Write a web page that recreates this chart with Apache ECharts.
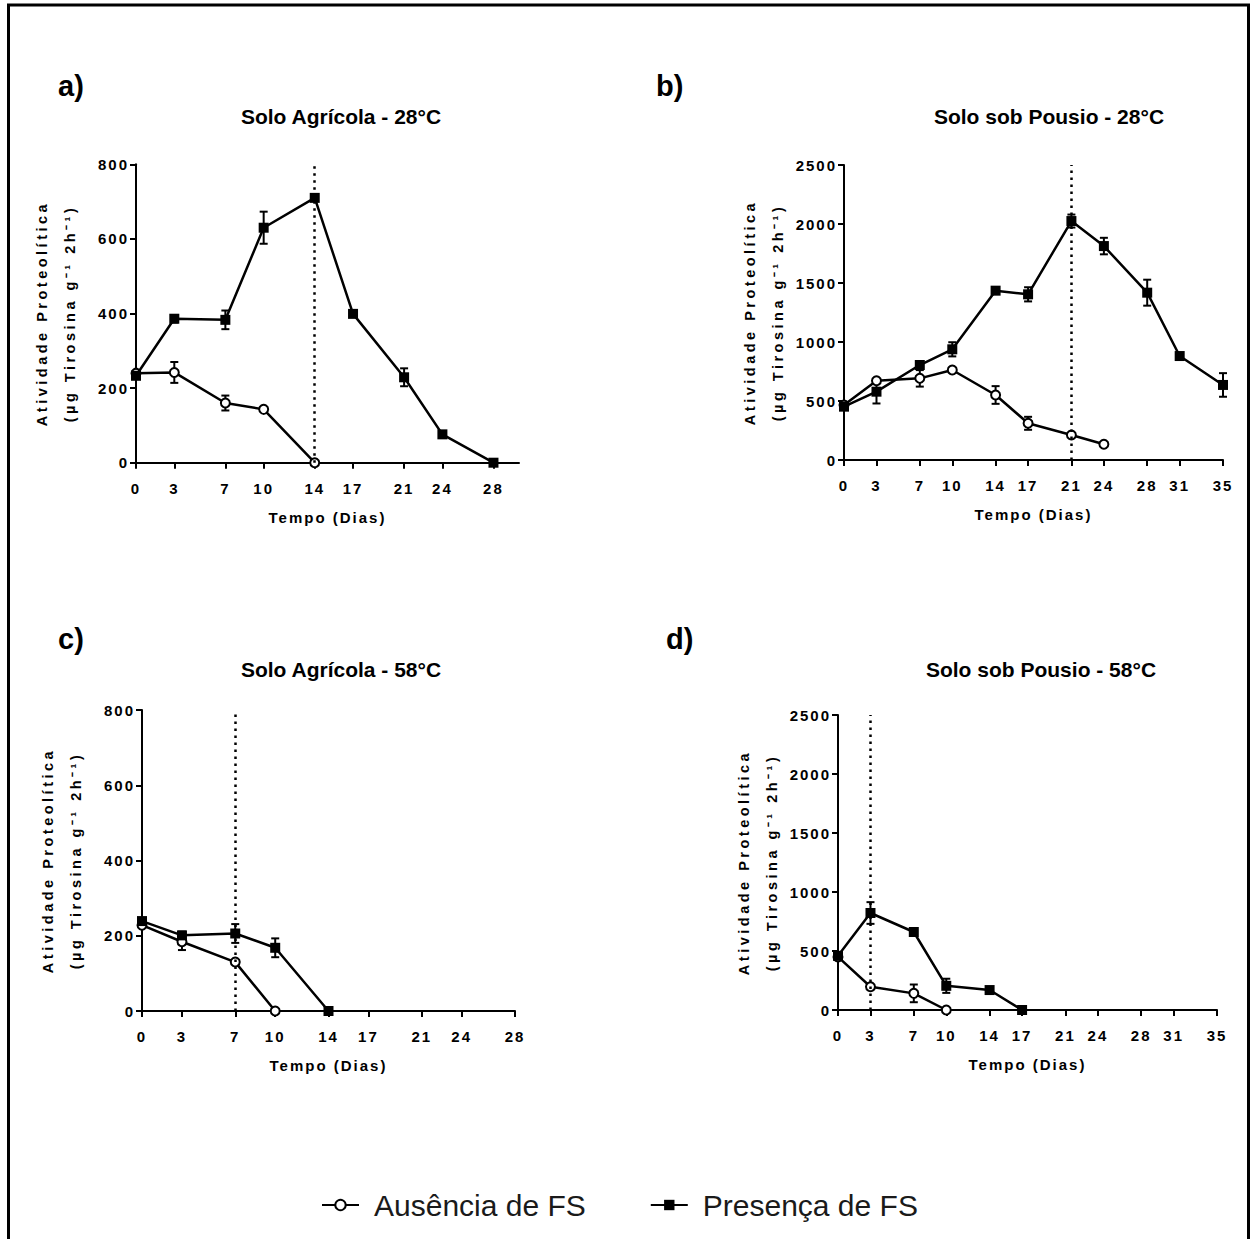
<!DOCTYPE html>
<html><head><meta charset="utf-8">
<script src="https://cdn.jsdelivr.net/npm/echarts@6/dist/echarts.min.js"></script>
<style>
html,body{margin:0;padding:0;background:#fff;}
#chart{width:1250px;height:1239px;}
#chart text[style*="15px"]{letter-spacing:2px;}
#chart text[style*="14.5px"]{letter-spacing:3.5px;}
</style></head><body><div id="chart"></div>
<script>
// ---- tick labels ----
const xTicks28 = [0, 3, 7, 10, 14, 17, 21, 24, 28];
const xTicks35 = [0, 3, 7, 10, 14, 17, 21, 24, 28, 31, 35];

// ---- panel a: Solo Agrícola - 28°C ----
const aDaysAus = [0, 3, 7, 10, 14];
const aAus     = [240, 242, 160, 143, 0];
const aAusErr  = [5, 28, 20, 5, 0];
const aDaysPres = [0, 3, 7, 10, 14, 17, 21, 24, 28];
const aPres     = [233, 386, 383, 630, 710, 399, 229, 76, 0];
const aPresErr  = [6, 10, 25, 43, 8, 8, 24, 5, 0];
const aMark = 14;

// ---- panel b: Solo sob Pousio - 28°C ----
const bDaysAus = [0, 3, 7, 10, 14, 17, 21, 24];
const bAus     = [466, 672, 692, 763, 551, 311, 212, 133];
const bAusErr  = [10, 15, 70, 20, 75, 55, 15, 10];
const bDaysPres = [0, 3, 7, 10, 14, 17, 21, 24, 28, 31, 35];
const bPres     = [452, 579, 805, 938, 1435, 1404, 2025, 1813, 1418, 881, 636];
const bPresErr  = [20, 100, 30, 60, 20, 60, 55, 70, 110, 15, 100];
const bMark = 21;

// ---- panel c: Solo Agrícola - 58°C ----
const cDaysAus = [0, 3, 7, 10];
const cAus     = [228, 184, 130, 0];
const cAusErr  = [5, 22, 5, 0];
const cDaysPres = [0, 3, 7, 10, 14];
const cPres     = [239, 201, 206, 168, 0];
const cPresErr  = [5, 10, 25, 25, 0];
const cMark = 7;

// ---- panel d: Solo sob Pousio - 58°C ----
const dDaysAus = [0, 3, 7, 10];
const dAus     = [450, 197, 141, 0];
const dAusErr  = [10, 15, 75, 0];
const dDaysPres = [0, 3, 7, 10, 14, 17];
const dPres     = [459, 822, 661, 205, 169, 0];
const dPresErr  = [15, 92, 20, 60, 15, 0];
const dMark = 3;

const titles = ['Solo Agrícola - 28°C', 'Solo sob Pousio - 28°C', 'Solo Agrícola - 58°C', 'Solo sob Pousio - 58°C'];
const panelLabels = ['a)', 'b)', 'c)', 'd)'];
const yName = 'Atividade Proteolítica\n(µg Tirosina g⁻¹ 2h⁻¹)';
const xName = 'Tempo (Dias)';
const AUS = 'Ausência de FS', PRES = 'Presença de FS';

const F = 'Arial, "Liberation Sans", sans-serif';
const BLACK = '#000';

const grids = [
  {left: 136, top: 164.3, width: 383, height: 298.4},
  {left: 844, top: 165, width: 379, height: 295},
  {left: 142, top: 710, width: 373, height: 301},
  {left: 838, top: 715, width: 379, height: 295}
];
const xMax = [30, 35, 28, 35];
const xTickSets = [xTicks28, xTicks35, xTicks28, xTicks35];
const yMax = [800, 2500, 800, 2500];
const yInt = [200, 500, 200, 500];

const panels = [
  [aDaysAus, aAus, aAusErr, aDaysPres, aPres, aPresErr, aMark],
  [bDaysAus, bAus, bAusErr, bDaysPres, bPres, bPresErr, bMark],
  [cDaysAus, cAus, cAusErr, cDaysPres, cPres, cPresErr, cMark],
  [dDaysAus, dAus, dAusErr, dDaysPres, dPres, dPresErr, dMark]
];

function zip(xs, ys) { return xs.map((x, i) => [x, ys[i]]); }
function zip3(xs, ys, es) { return xs.map((x, i) => [x, ys[i], es[i]]); }

function renderErr(params, api) {
  const x = api.value(0), y = api.value(1), e = api.value(2);
  if (!e) return null;
  const hi = api.coord([x, y + e]);
  const lo = api.coord([x, y - e]);
  const hw = 4;
  const st = {stroke: BLACK, lineWidth: 2};
  return {type: 'group', children: [
    {type: 'line', shape: {x1: hi[0], y1: hi[1], x2: lo[0], y2: lo[1]}, style: st},
    {type: 'line', shape: {x1: hi[0] - hw, y1: hi[1], x2: hi[0] + hw, y2: hi[1]}, style: st},
    {type: 'line', shape: {x1: lo[0] - hw, y1: lo[1], x2: lo[0] + hw, y2: lo[1]}, style: st}
  ]};
}

const axisText = {color: BLACK, fontFamily: F, fontWeight: 'bold', fontSize: 15, formatter: v => String(v)};
const xAxes = [], yAxes = [], series = [];
panels.forEach((p, i) => {
  xAxes.push({
    type: 'value', gridIndex: i, min: 0, max: xMax[i],
    name: xName, nameLocation: 'middle', nameGap: 47,
    nameTextStyle: {color: BLACK, fontFamily: F, fontWeight: 'bold', fontSize: 15},
    axisLine: {show: true, onZero: false, lineStyle: {color: BLACK, width: 2}},
    axisTick: {show: true, length: 6, lineStyle: {color: BLACK, width: 2}, customValues: xTickSets[i]},
    axisLabel: Object.assign({margin: 18, customValues: xTickSets[i]}, axisText),
    splitLine: {show: false}
  });
  yAxes.push({
    type: 'value', gridIndex: i, min: 0, max: yMax[i], interval: yInt[i],
    name: yName, nameLocation: 'middle', nameGap: 52, nameRotate: 90,
    nameTextStyle: {color: BLACK, fontFamily: F, fontWeight: 'bold', fontSize: 14.5, lineHeight: 28},
    axisLine: {show: true, lineStyle: {color: BLACK, width: 2}},
    axisTick: {show: true, length: 6, lineStyle: {color: BLACK, width: 2}},
    axisLabel: Object.assign({margin: 7}, axisText),
    splitLine: {show: false}
  });
  const [dA, vA, eA, dP, vP, eP, mk] = p;
  series.push({
    type: 'custom', name: 'errAus' + i, xAxisIndex: i, yAxisIndex: i, z: 1,
    renderItem: renderErr, data: zip3(dA, vA, eA), silent: true
  });
  series.push({
    type: 'custom', name: 'errPres' + i, xAxisIndex: i, yAxisIndex: i, z: 1,
    renderItem: renderErr, data: zip3(dP, vP, eP), silent: true
  });
  series.push({
    type: 'line', name: AUS, xAxisIndex: i, yAxisIndex: i, z: 2,
    data: zip(dA, vA), symbol: 'circle', symbolSize: 9, showSymbol: true,
    lineStyle: {color: BLACK, width: 2.5},
    itemStyle: {color: '#fff', borderColor: BLACK, borderWidth: 2}
  });
  series.push({
    type: 'line', name: PRES, xAxisIndex: i, yAxisIndex: i, z: 3,
    data: zip(dP, vP), symbol: 'rect', symbolSize: 10, showSymbol: true,
    lineStyle: {color: BLACK, width: 2.5},
    itemStyle: {color: BLACK},
    markLine: {
      silent: true, symbol: ['none', 'none'], label: {show: false},
      lineStyle: {color: BLACK, width: 2.5, type: [2.5, 4.5]},
      data: [{xAxis: mk}]
    }
  });
});

const titleOpts = [];
const labelPos = [[58, 71], [656, 71], [58, 624], [666, 624]];
const titlePos = [[341, 106], [1049, 106], [341, 659], [1041, 659]];
panelLabels.forEach((t, i) => titleOpts.push({
  text: t, left: labelPos[i][0], top: labelPos[i][1], padding: 0,
  textStyle: {fontSize: 29, fontWeight: 'bold', fontFamily: F, color: BLACK}
}));
titles.forEach((t, i) => titleOpts.push({
  text: t, left: titlePos[i][0], top: titlePos[i][1], padding: 0, textAlign: 'center',
  textStyle: {fontSize: 21, fontWeight: 'bold', fontFamily: F, color: BLACK}
}));

const chart = echarts.init(document.getElementById('chart'), null, {renderer: 'svg'});
chart.setOption({
  animation: false,
  backgroundColor: '#fff',
  title: titleOpts,
  legend: {
    data: [AUS, PRES], left: 316, top: 1185, itemWidth: 37, itemHeight: 13, itemGap: 64,
    textStyle: {fontSize: 30, fontFamily: '"Liberation Sans Narrow", "Arial Narrow", Arial, sans-serif', color: '#1a1a1a', padding: [0, 0, 0, 10]},
    selectedMode: false
  },
  grid: grids,
  xAxis: xAxes,
  yAxis: yAxes,
  series: series,
  graphic: [{
    type: 'rect', shape: {x: 8.5, y: 5, width: 1240, height: 1260},
    style: {fill: 'none', stroke: BLACK, lineWidth: 3}, silent: true, z: 100
  }]
});
</script></body></html>
